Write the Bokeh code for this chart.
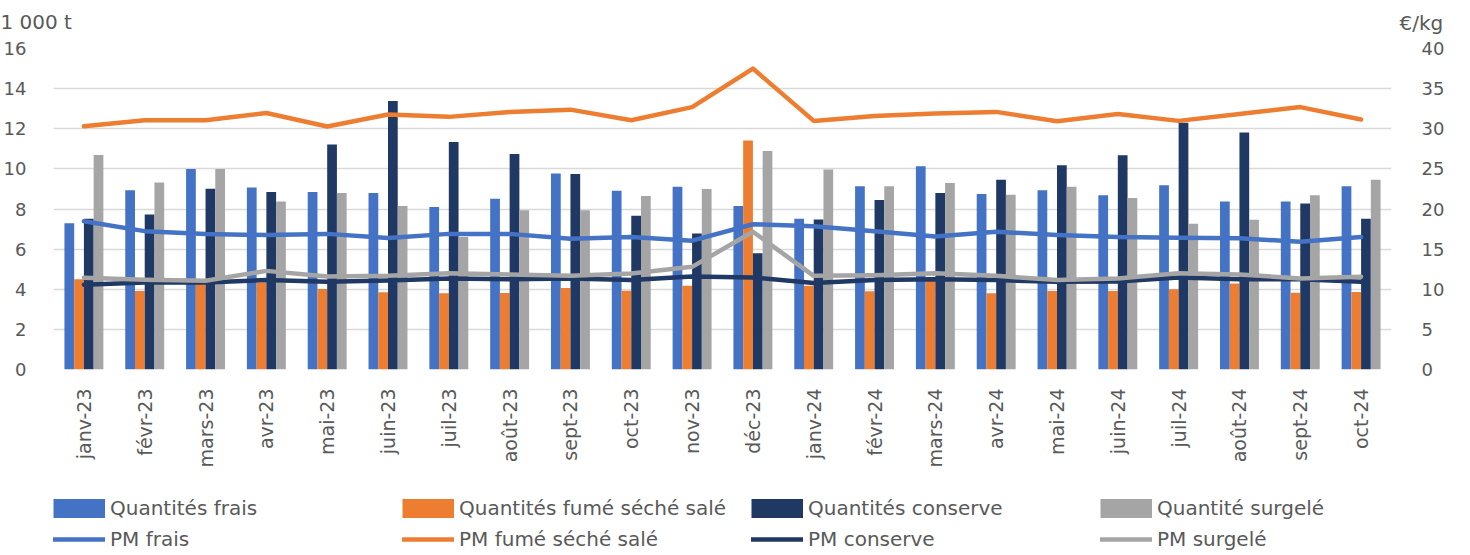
import math
from bokeh.plotting import figure
from bokeh.layouts import column, row
from bokeh.models import (ColumnDataSource, FactorRange, Range1d, LinearAxis, FixedTicker,
                          Legend, LegendItem, Label)
from bokeh.transform import dodge
from bokeh.embed import file_html
from bokeh.resources import INLINE

months = ["janv-23", "févr-23", "mars-23", "avr-23", "mai-23", "juin-23", "juil-23", "août-23",
          "sept-23", "oct-23", "nov-23", "déc-23", "janv-24", "févr-24", "mars-24", "avr-24",
          "mai-24", "juin-24", "juil-24", "août-24", "sept-24", "oct-24"]

q_frais = [7.29, 8.93, 10.0, 9.07, 8.85, 8.8, 8.1, 8.51, 9.77, 8.91, 9.11, 8.15, 7.51, 9.13,
           10.13, 8.75, 8.94, 8.68, 9.19, 8.37, 8.37, 9.13]
q_fume = [4.5, 3.91, 4.26, 4.34, 4.01, 3.85, 3.8, 3.81, 4.06, 3.93, 4.17, 11.42, 4.17, 3.9,
          4.6, 3.8, 3.91, 3.91, 4.0, 4.29, 3.83, 3.86]
q_conserve = [7.51, 7.72, 9.01, 8.85, 11.22, 13.38, 11.34, 10.74, 9.74, 7.66, 6.78, 5.79, 7.48,
              8.45, 8.8, 9.46, 10.18, 10.68, 12.3, 11.81, 8.27, 7.51]
q_surgele = [10.69, 9.32, 10.0, 8.38, 8.8, 8.15, 6.6, 7.94, 7.94, 8.65, 9.0, 10.89, 9.97, 9.14,
             9.29, 8.71, 9.11, 8.55, 7.26, 7.46, 8.68, 9.46]

pm_frais = [18.48, 17.24, 16.9, 16.75, 16.9, 16.4, 16.9, 16.9, 16.3, 16.5, 16.05, 18.1, 17.86,
            17.24, 16.58, 17.16, 16.75, 16.5, 16.42, 16.34, 15.93, 16.5]
pm_fume = [30.3, 31.06, 31.06, 31.97, 30.28, 31.77, 31.48, 32.1, 32.38, 31.06, 32.7, 37.5, 30.98,
           31.6, 31.9, 32.1, 30.94, 31.85, 30.98, 31.85, 32.7, 31.15]
pm_conserve = [10.56, 10.85, 10.85, 11.14, 10.93, 11.1, 11.35, 11.26, 11.35, 11.14, 11.6, 11.47,
               10.77, 11.14, 11.26, 11.14, 10.93, 10.97, 11.47, 11.26, 11.26, 10.93]
pm_surgele = [11.43, 11.18, 11.05, 12.29, 11.6, 11.67, 12.0, 11.84, 11.67, 11.96, 12.79, 17.16,
              11.67, 11.76, 12.0, 11.67, 11.14, 11.35, 12.0, 11.84, 11.35, 11.55]

series_names = ["Quantités frais", "Quantités fumé séché salé", "Quantités conserve",
                "Quantité surgelé", "PM frais", "PM fumé séché salé", "PM conserve", "PM surgelé"]
unit_left = "1 000 t"
unit_right = "€/kg"

BLUE = "#4472C4"
ORANGE = "#ED7D31"
NAVY = "#203864"
GRAY = "#A5A5A5"
TXT = "#595959"
FONT = "DejaVu Sans"
W = 1454

# ---------------- top strip with the unit labels ----------------
top = figure(width=W, height=36, x_range=Range1d(0, 1), y_range=Range1d(0, 1),
             x_axis_type=None, y_axis_type=None, output_backend="svg", toolbar_location=None,
             min_border=0)
top.outline_line_color = None
top.grid.visible = False
top.add_layout(Label(x=0, y=15, x_units="screen", y_units="screen", text=unit_left,
                     text_font=FONT, text_font_size="20px", text_color=TXT,
                     text_baseline="middle"))
top.add_layout(Label(x=1399, y=14, x_units="screen", y_units="screen", text=unit_right,
                     text_font=FONT, text_font_size="20px", text_color=TXT,
                     text_baseline="middle"))

# ---------------- main chart ----------------
src = ColumnDataSource(dict(x=months, qf=q_frais, qs=q_fume, qc=q_conserve, qg=q_surgele,
                            pf=pm_frais, ps=pm_fume, pc=pm_conserve, pg=pm_surgele))

p = figure(x_range=FactorRange(*months, range_padding=0), y_range=Range1d(0, 16),
           width=W, height=434, output_backend="svg", toolbar_location=None,
           min_border_left=45, min_border_right=63, min_border_top=12, min_border_bottom=99)
p.extra_y_ranges = {"pm": Range1d(0, 40)}
p.outline_line_color = None

bw = 0.16
p.vbar(x=dodge("x", -0.24, range=p.x_range), top="qf", width=bw, source=src,
       fill_color=BLUE, line_color=None)
p.vbar(x=dodge("x", -0.08, range=p.x_range), top="qs", width=bw, source=src,
       fill_color=ORANGE, line_color=None)
p.vbar(x=dodge("x", 0.08, range=p.x_range), top="qc", width=bw, source=src,
       fill_color=NAVY, line_color=None)
p.vbar(x=dodge("x", 0.24, range=p.x_range), top="qg", width=bw, source=src,
       fill_color=GRAY, line_color=None)

lw = 4.5
for col, c in (("pf", BLUE), ("ps", ORANGE), ("pc", NAVY), ("pg", GRAY)):
    p.line("x", col, source=src, y_range_name="pm", line_color=c, line_width=lw,
           line_join="round", line_cap="round")

p.yaxis.ticker = FixedTicker(ticks=list(range(0, 17, 2)))
right = LinearAxis(y_range_name="pm", ticker=FixedTicker(ticks=list(range(0, 41, 5))))
p.add_layout(right, "right")

for ax in (p.yaxis[0], right):
    ax.axis_line_color = None
    ax.major_tick_line_color = None
    ax.minor_tick_line_color = None
    ax.major_label_text_font = FONT
    ax.major_label_text_font_size = "18px"
    ax.major_label_text_color = TXT
p.yaxis[0].major_label_standoff = 21
right.major_label_standoff = 24

xa = p.xaxis[0]
xa.axis_line_color = None
xa.major_tick_line_color = None
xa.minor_tick_line_color = None
xa.major_label_orientation = math.pi / 2
xa.major_label_text_font = FONT
xa.major_label_text_font_size = "19px"
xa.major_label_text_color = TXT
xa.major_label_standoff = 13

p.xgrid.grid_line_color = None
p.ygrid.grid_line_color = "#D9D9D9"
p.ygrid.grid_line_width = 1.5

# ---------------- legend strip ----------------
leg = figure(width=W, height=81, x_range=Range1d(0, 1), y_range=Range1d(0, 1),
             x_axis_type=None, y_axis_type=None, output_backend="svg", toolbar_location=None,
             min_border=0)
leg.outline_line_color = None
leg.grid.visible = False
nan = float("nan")
colors = [BLUE, ORANGE, NAVY, GRAY]
rend = []
for c in colors:  # bar swatches (legend only)
    rend.append(leg.line([nan], [nan], line_color=c, line_width=19, line_cap="butt"))
for c in colors:  # line swatches (legend only)
    rend.append(leg.line([nan], [nan], line_color=c, line_width=lw, line_cap="round"))
items = [LegendItem(label=n, renderers=[r]) for n, r in zip(series_names, rend)]
lg = Legend(items=items, location=(0, 0), orientation="horizontal", ncols=4,
            glyph_width=52, glyph_height=20, label_height=20, label_width=285,
            label_standoff=5, spacing=7, padding=0, margin=0,
            border_line_color=None, background_fill_alpha=0,
            label_text_font=FONT, label_text_font_size="20px", label_text_color=TXT)
leg.add_layout(lg, "center")

layout = column(row(top), p, leg, spacing=0)
open("out.html", "w").write(file_html(layout, INLINE))
